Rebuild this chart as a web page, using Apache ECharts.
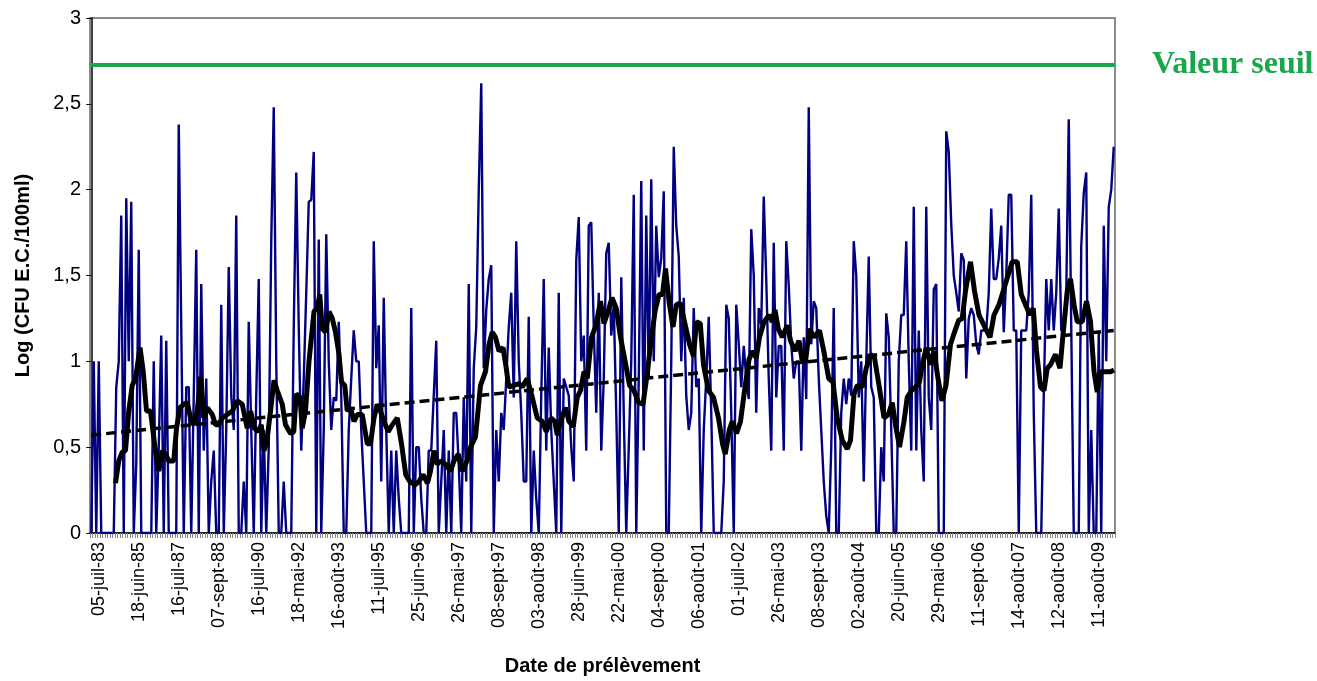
<!DOCTYPE html>
<html><head><meta charset="utf-8">
<script src="https://cdn.jsdelivr.net/npm/echarts@6/dist/echarts.min.js"></script>
<style>html,body{margin:0;padding:0;background:#fff}#c{width:1317px;height:681px}</style>
</head><body><div id="c"></div>
<script>
const tickLabels = ['05-juil-83','18-juin-85','16-juil-87','07-sept-88','16-juil-90','18-mai-92','16-août-93','11-juil-95','25-juin-96','26-mai-97','08-sept-97','03-août-98','28-juin-99','22-mai-00','04-sept-00','06-août-01','01-juil-02','26-mai-03','08-sept-03','02-août-04','20-juin-05','29-mai-06','11-sept-06','14-août-07','12-août-08','11-août-09'];
const labelStart = 3;
const labelStep = 16;

const logValues = [
0,1.0,0,1.0,0,0,0,0,0,0,
0.85,1.0,1.85,0,1.95,1.0,1.93,0,0.4,1.65,
0,0,0,0,0,1.0,0,0.5,1.15,0,
1.12,0,0,0,0,2.38,1.2,0,0.85,0.85,
0,0.8,1.65,0,1.45,0.48,0.9,0,0.3,0.48,
0,0,1.33,0,0.6,1.55,0.8,0.6,1.85,0,
0,0.3,0,1.23,0.6,0,0.8,1.48,0,0.6,
0,0.5,1.7,2.48,1.0,0,0,0.3,0,0,
0,1.2,2.1,1.2,0.48,0.9,1.4,1.93,1.94,2.22,
0,1.71,0,0.6,1.74,1.0,0.6,0.79,0.77,1.23,
0.8,0,0,0.6,0.9,1.18,1.0,1.0,0.6,0.3,
0,0,0,1.7,0.96,1.21,0.3,1.37,0.6,0,
0.48,0,0.48,0.2,0,0,0,0,1.31,0,
0.5,0.5,0.2,0,0,0.48,0.48,0.8,1.12,0,
0.3,0.6,0,0.48,0,0.7,0.7,0.4,0,0.79,
0.3,1.45,0,0.96,1.2,2.0,2.62,0.96,1.3,1.48,
1.56,0,0.6,0.3,0.7,0.6,0.9,1.2,1.4,0.79,
1.7,1.0,0.7,0.3,0.3,1.26,0,0.48,0.2,0,
0.8,1.48,0.48,1.08,0.6,0.3,0,1.4,0,0.9,
0.85,0.8,0.5,0.3,1.59,1.84,1.0,1.15,0.48,1.79,
1.81,1.2,0.7,1.4,0.48,0.9,1.63,1.69,1.15,1.33,
0.7,0,1.49,0.7,0,0.5,1.0,1.97,0,0.9,
2.05,0.48,1.85,0.9,2.06,1.0,1.79,1.49,1.6,1.99,
0,0,1.0,2.25,1.79,1.61,1.0,1.37,0.8,0.6,
0.7,1.31,0.85,0.9,0,0.6,0.9,1.26,0.7,0,
0,0,0,0.3,1.33,1.25,0.7,0,1.33,1.1,
0.85,1.09,0.9,0.78,1.77,1.5,0.7,1.31,1.21,1.96,
1.48,0.9,0.48,1.69,0.79,1.09,1.09,0.48,1.7,1.44,
1.1,0.9,1.0,1.0,0.48,1.14,0.78,2.48,1.1,1.35,
1.31,0.9,0.6,0.3,0.1,0,0.5,1.31,0,0,
0.7,0.9,0.75,0.9,0.8,1.7,1.5,0.79,1.0,0.3,
1.0,1.61,0.85,0.79,0,0,0.5,0.3,1.28,1.14,
0.6,0,0,1.0,1.27,1.27,1.7,1.0,0.48,1.9,
0.48,1.18,0.6,0.3,1.9,0.79,0.6,1.42,1.45,0,
0,0,2.34,2.22,1.8,1.5,1.4,1.29,1.63,1.59,
0.9,1.25,1.31,1.27,1.1,1.04,1.18,1.18,1.18,1.4,
1.89,1.48,1.48,1.6,1.79,1.17,1.5,1.97,1.97,1.18,
1.18,0,1.18,1.18,1.18,1.4,1.97,0.7,0,0,
0,0.8,1.48,1.18,1.48,1.18,1.4,1.89,1.18,1.18,
1.4,2.41,1.2,0,0,0,1.67,1.98,2.1,0,
0.6,0,0,1.17,0,1.79,1.0,1.9,2.0,2.25
];

const movingAverage = [
[9.7,0.29],[11,0.42],[12.4,0.47],[13.7,0.48],[15,0.71],[16.4,0.86],[17.7,0.9],[19.5,1.08],[20.8,0.94],[22.1,0.71],[23.7,0.71],[25.3,0.52],[27,0.36],[28.4,0.48],[29.7,0.46],[31,0.42],[33,0.42],[34.1,0.61],[35.5,0.73],[37,0.75],[38.4,0.76],[39.7,0.67],[41,0.63],[42.4,0.71],[43.7,0.91],[45,0.67],[46.4,0.73],[48.4,0.69],[49.7,0.63],[51,0.63],[52.4,0.67],[54.4,0.69],[56.4,0.71],[58.4,0.77],[60.4,0.75],[62.4,0.61],[63.7,0.71],[65.3,0.61],[66.7,0.59],[68,0.63],[69.1,0.48],[70.1,0.52],[71.7,0.71],[73.1,0.89],[74.4,0.83],[76.4,0.75],[77.7,0.63],[79.7,0.58],[81,0.59],[82,0.81],[83.5,0.79],[84.4,0.61],[85.7,0.71],[87.1,1.0],[89.1,1.29],[90.4,1.31],[91.4,1.39],[92.4,1.19],[93.7,1.17],[95.1,1.29],[96.4,1.25],[97.7,1.17],[99.1,1.04],[100.1,0.88],[101.4,0.86],[102.4,0.71],[103.7,0.73],[105.1,0.65],[106.4,0.69],[108.4,0.69],[110.4,0.52],[111.7,0.52],[113.1,0.67],[114.4,0.75],[115.7,0.71],[117.1,0.65],[118.8,0.59],[120.4,0.63],[122.4,0.67],[124.1,0.52],[125.8,0.34],[127.4,0.3],[129.4,0.28],[131.1,0.3],[132.7,0.34],[134.5,0.29],[135.7,0.36],[137.1,0.48],[138.4,0.4],[139.7,0.42],[141.7,0.4],[143.7,0.36],[145.1,0.42],[146.8,0.46],[148.4,0.36],[150.3,0.42],[151.7,0.5],[153.7,0.56],[155.7,0.86],[157.7,0.94],[159.1,1.1],[160.4,1.17],[161.7,1.14],[163.1,1.06],[164.7,1.08],[166,0.96],[167,0.85],[169.1,0.86],[171.1,0.87],[172.4,0.85],[174.4,0.9],[176.4,0.79],[178.4,0.67],[180.4,0.65],[182,0.59],[184,0.67],[185.4,0.65],[186.4,0.57],[187.7,0.65],[189.7,0.73],[191.1,0.65],[192.8,0.62],[194.4,0.79],[195.7,0.83],[197.1,0.94],[198.4,0.9],[200.1,1.14],[201.9,1.21],[203.7,1.35],[205.1,1.22],[206.7,1.29],[208.3,1.37],[210,1.31],[211.7,1.14],[213.3,1.02],[215.3,0.86],[217.1,0.83],[218.9,0.76],[220.7,0.75],[222.4,0.93],[224.1,1.14],[225.5,1.29],[227.1,1.39],[228.5,1.39],[229.7,1.54],[231.1,1.35],[232.7,1.2],[234,1.33],[235.6,1.34],[237.3,1.23],[239.3,1.1],[240.9,1.03],[242.1,1.23],[243.6,1.22],[244.9,0.98],[246.9,0.83],[248.9,0.79],[250.9,0.67],[252.5,0.52],[253.6,0.46],[255.2,0.6],[256.4,0.65],[258.1,0.58],[259.7,0.65],[261.5,0.85],[263.1,1.01],[264.4,1.06],[266,1.02],[267.3,1.14],[269.1,1.23],[271.1,1.27],[272.4,1.23],[273.5,1.3],[274.8,1.19],[276.4,1.14],[278.4,1.21],[279.7,1.12],[281.5,1.06],[283.1,1.12],[284.4,1.0],[285.7,1.0],[287.3,1.19],[289.1,1.14],[291.3,1.18],[293,1.06],[295,0.9],[296.7,0.88],[298.4,0.67],[300.4,0.54],[302.4,0.49],[303.7,0.54],[305.1,0.81],[306.4,0.86],[308.4,0.85],[310,0.96],[311.7,1.04],[313.3,1.02],[315.1,0.86],[317.1,0.67],[318.8,0.69],[320.4,0.76],[321.7,0.63],[323.3,0.5],[325.1,0.65],[326.4,0.79],[328.1,0.83],[329.7,0.85],[331.3,0.88],[332.4,0.98],[334,1.08],[335.7,0.98],[337.1,1.06],[338.7,0.9],[340.3,0.77],[341.9,0.86],[343.7,1.1],[345.3,1.17],[347,1.24],[348.4,1.25],[349.7,1.41],[351.7,1.58],[353.3,1.41],[355.1,1.27],[357.1,1.21],[359.5,1.14],[361.1,1.27],[363.1,1.33],[364.8,1.41],[366.7,1.5],[368.4,1.58],[370.4,1.58],[372,1.39],[373.7,1.33],[375.5,1.27],[376.8,1.31],[378.1,1.06],[379.7,0.85],[381.1,0.83],[382.4,0.96],[383.7,0.98],[385.7,1.04],[387.5,0.96],[388.8,1.17],[390.4,1.41],[391.7,1.48],[393.1,1.33],[394.4,1.23],[396.4,1.23],[398.1,1.35],[399.7,1.23],[401.1,0.94],[402.4,0.82],[403.7,0.94],[405.7,0.94],[407.7,0.94],[409.1,0.95]
];

const trendLine = [[0, 0.57], [409, 1.18]];
const thresholdValue = 2.73;
const thresholdLabel = 'Valeur seuil';
const yAxisTitle = 'Log (CFU E.C./100ml)';
const xAxisTitle = 'Date de prélèvement';

const categories = logValues.map((v, i) => {
  const k = (i - labelStart) / labelStep;
  return (Number.isInteger(k) && k >= 0 && k < tickLabels.length) ? tickLabels[k] : 'p' + i;
});

const chart = echarts.init(document.getElementById('c'), null, {renderer: 'canvas'});
const FONT = '"Liberation Sans", Arial, sans-serif';
chart.setOption({
  animation: false,
  backgroundColor: '#fff',
  grid: {left: 90, right: 202, top: 18, bottom: 145, show: true, borderColor: '#8c8c8c', borderWidth: 2, backgroundColor: 'transparent'},
  xAxis: [{
    type: 'category', data: categories, boundaryGap: true,
    axisLine: {lineStyle: {color: '#000', width: 1.5}},
    axisTick: {show: true, interval: 0, length: 5, lineStyle: {color: '#888', width: 1}},
    axisLabel: {interval: (i) => (i - labelStart) % labelStep === 0 && i >= labelStart, rotate: 90, fontSize: 18, fontFamily: FONT, color: '#000', margin: 9},
    splitLine: {show: false},
    name: xAxisTitle, nameLocation: 'middle', nameGap: 123,
    nameTextStyle: {fontSize: 20, fontWeight: 'bold', fontFamily: FONT, color: '#000'}
  }, {
    type: 'value', min: -0.5, max: logValues.length - 0.5, show: false
  }],
  yAxis: {
    type: 'value', min: 0, max: 3, interval: 0.5,
    axisLine: {show: true, lineStyle: {color: '#000', width: 1.5}},
    axisTick: {show: true, length: 5, lineStyle: {color: '#000'}},
    axisLabel: {fontSize: 20, fontFamily: FONT, color: '#000', margin: 9, formatter: (v) => String(v).replace('.', ',')},
    splitLine: {show: false},
    name: yAxisTitle, nameLocation: 'middle', nameGap: 57, nameRotate: 90,
    nameTextStyle: {fontSize: 20, fontWeight: 'bold', fontFamily: FONT, color: '#000'}
  },
  series: [{
    type: 'line', xAxisIndex: 0, data: logValues, showSymbol: false, symbol: 'none',
    lineStyle: {color: '#000080', width: 2.4}, z: 2,
    markLine: {
      silent: true, symbol: ['none', 'none'],
      lineStyle: {color: '#1aa64b', width: 4, type: 'solid'},
      label: {show: true, position: 'end', distance: 37, formatter: thresholdLabel, color: '#1aa64b', fontSize: 32, fontWeight: 'bold', fontFamily: '"Liberation Serif", "Times New Roman", serif'},
      data: [{yAxis: thresholdValue}]
    }
  }, {
    type: 'line', xAxisIndex: 1, data: movingAverage, showSymbol: false, symbol: 'none',
    lineStyle: {color: '#000', width: 5}, z: 3
  }, {
    type: 'line', xAxisIndex: 1, data: trendLine, showSymbol: false, symbol: 'none',
    lineStyle: {color: '#000', width: 3.5, type: [10, 5]}, z: 4
  }]
});
</script>
</body></html>
